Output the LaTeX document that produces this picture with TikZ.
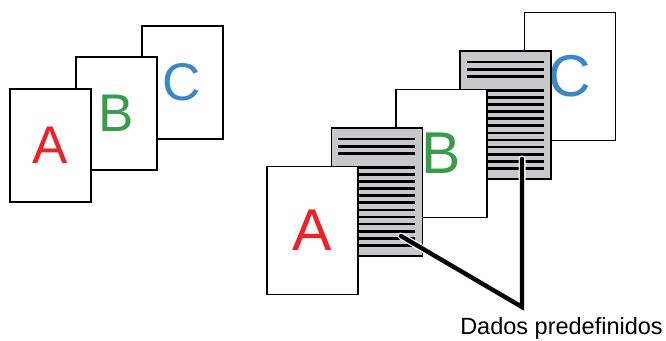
\documentclass[tikz,border=0pt]{standalone}
\usepackage{fontspec}
\setmainfont{Liberation Sans}
\definecolor{lred}{RGB}{236,34,39}
\definecolor{lgreen}{RGB}{58,155,72}
\definecolor{lblue}{RGB}{58,135,200}
\definecolor{pgray}{RGB}{200,200,202}
\begin{document}
\begin{tikzpicture}[x=1pt,y=-1pt,
 smallpage/.style={draw=black, fill=white, line width=2pt, minimum width=81pt, minimum height=113pt, inner sep=0pt, font=\fontsize{53}{53}\selectfont},
 bigpage/.style={draw=black, fill=white, line width=1.7pt, minimum width=91pt, minimum height=128pt, inner sep=0pt, font=\fontsize{59}{59}\selectfont},
 graypage/.style={bigpage, fill=pgray},
 textline/.style={line width=2.7pt},
 halo/.style={white, line width=7pt, line cap=round, line join=miter},
 leader/.style={black, line width=4.4pt, line cap=round, line join=miter}]
\useasboundingbox (0,0) rectangle (666,340);
% left group
\node[smallpage, text=lblue] (c1) at (182,82.5) {C};
\node[smallpage, text=lgreen] (b1) at (116,113.5) {B};
\node[smallpage, text=lred] (a1) at (50,145) {A};
% right group
\node[bigpage, text=lblue] (c2) at (570.1,76.5) {C};
\node[graypage] (g2) at (505.7,115) {};
\foreach \dy in {11.7,19.1,26.5} {\draw[textline] ([shift={(7.5,\dy)}]g2.north west) -- ++(77,0);}
\foreach \i [evaluate=\i as \dy using 40+7.12*\i] in {0,...,11} {\draw[textline] ([shift={(7.5,\dy)}]g2.north west) -- ++(77,0);}
\node[bigpage, text=lgreen] (b2) at (441.3,153.5) {B};
\node[graypage] (g1) at (376.9,192) {};
\foreach \dy in {11.7,19.1,26.5} {\draw[textline] ([shift={(7.5,\dy)}]g1.north west) -- ++(77,0);}
\foreach \i [evaluate=\i as \dy using 40+7.12*\i] in {0,...,11} {\draw[textline] ([shift={(7.5,\dy)}]g1.north west) -- ++(77,0);}
\node[bigpage, text=lred] (a2) at (312.5,230.5) {A};
% label and leaders
\node[anchor=base, font=\fontsize{23.5}{23.5}\selectfont, inner sep=0pt] (lbl) at (561.5,334.5) {Dados predefinidos};
\coordinate (p1) at (401,236);
\coordinate (p2) at (522,159);
\coordinate (corner) at (522,307);
\draw[halo] (p1) -- (corner) -- (p2);
\draw[leader] (p1) -- (corner) -- (p2);
\end{tikzpicture}
\end{document}
